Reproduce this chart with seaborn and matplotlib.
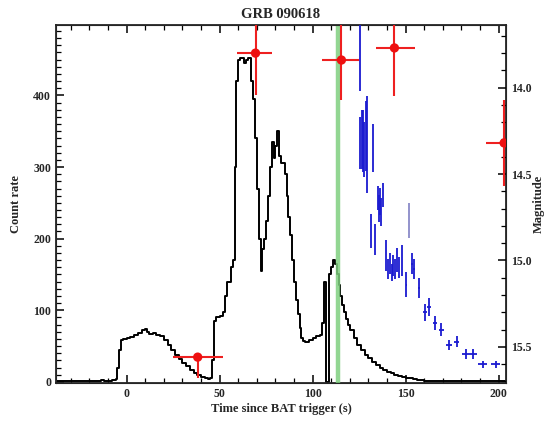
import numpy as np
import pandas as pd
import matplotlib
matplotlib.use("Agg")
import matplotlib.pyplot as plt
from matplotlib.ticker import MultipleLocator, FormatStrFormatter
import seaborn as sns

# BAT count-rate light curve (bin start time in s, counts per bin)
bat_time = [-38, -36, -34, -32, -30, -28, -26, -24, -22, -20, -18, -16, -14, -12, -10, -8, -6,
            -5, -4, -3, -2, 0, 2, 4, 6, 8, 10, 11, 12, 14, 16, 18, 20, 22, 24, 26, 28, 30, 32,
            34, 36, 38, 40, 42, 44, 45, 46, 47, 48, 50, 52, 53, 54, 55, 56, 57, 58, 59, 60,
            61, 62, 63, 64, 65, 66, 67, 68, 69, 70, 71, 72, 73, 74, 75, 76, 77, 78, 79, 80,
            81, 82, 83, 84, 85, 86, 87, 88, 89, 90, 91, 92, 93, 94, 95, 96, 98, 100, 102, 104,
            105, 106, 107, 109, 110, 111, 112, 113, 114, 115, 116, 117, 118, 119, 120, 122, 124,
            126, 128, 130, 132, 134, 136, 138, 140, 142, 144, 146, 148, 150, 152, 154, 156, 158,
            160, 164, 168, 172, 176, 180, 184, 188, 192, 196, 200, 204]
bat_rate = [2, 1, 2, 1, 2, 1, 2, 2, 1, 2, 1, 2, 3, 2, 2, 3, 4,
            20, 45, 58, 60, 62, 63, 66, 68, 72, 74, 70, 67, 68, 66, 64, 58, 52, 45, 38, 32, 27, 22,
            17, 13, 10, 7, 5, 4, 6, 30, 85, 90, 92, 97, 120, 140, 140, 160, 170, 300, 420, 450,
            452, 452, 445, 450, 452, 452, 420, 395, 340, 270, 200, 155, 185, 200, 225, 260, 300, 335, 312, 330,
            350, 315, 305, 305, 290, 260, 230, 205, 170, 140, 115, 95, 75, 62, 57, 56, 58, 62, 64, 66,
            82, 140, 0, 150, 160, 170, 165, 150, 135, 120, 108, 98, 88, 80, 72, 62, 52,
            45, 38, 33, 28, 24, 20, 17, 14, 12, 10, 8, 7, 6, 5, 4, 3, 3,
            2, 2, 1, 2, 1, 2, 1, 2, 1, 2, 2, 2]

# Optical photometry (magnitudes)
red_t = [38.2, 69.3, 115.5, 144.0, 203.0]
red_mag = [15.56, 13.80, 13.84, 13.77, 14.32]
red_t_lo = [13.3, 10.1, 10.5, 10.0, 10.0]
red_t_hi = [13.4, 8.6, 9.5, 11.0, 10.0]
red_mag_lo = [0.02, 0.24, 0.23, 0.28, 0.25]
red_mag_hi = [0.12, 0.24, 0.23, 0.28, 0.25]

blue_t = [125.7, 125.5, 126.3, 127.0, 127.8, 128.5, 129.2, 132.4, 131.5, 133.6,
          135.2, 135.8, 136.4, 137.0, 137.8, 139.5, 140.5, 141.5, 142.5, 143.5,
          144.5, 145.5, 146.5, 148.0, 150.5, 153.5, 154.5, 157.3, 160.3, 162.5,
          165.8, 169.3, 173.5, 177.5, 182.5, 186.5, 191.5, 198.5]
blue_mag = [13.55, 14.32, 14.30, 14.31, 14.36, 14.28, 14.33, 14.35, 14.83, 14.88,
            14.64, 14.70, 14.66, 14.72, 14.62, 14.97, 15.05, 15.02, 15.07, 15.03,
            15.05, 15.00, 15.04, 15.00, 15.14, 15.02, 15.05, 15.16, 15.30, 15.27,
            15.36, 15.40, 15.49, 15.47, 15.54, 15.54, 15.60, 15.60]
blue_t_err = [0, 0, 0, 0, 0, 0, 0, 0, 0, 0,
              0, 0, 0, 0, 0, 0, 0, 0, 0, 0,
              0, 0, 0, 0, 0.5, 0.5, 0.5, 0.6, 1.0, 1.0,
              1.2, 1.2, 1.5, 1.5, 2.0, 2.0, 2.5, 2.5]
blue_mag_err = [0.47, 0.15, 0.17, 0.18, 0.16, 0.20, 0.28, 0.14, 0.10, 0.09,
                0.07, 0.08, 0.08, 0.08, 0.07, 0.09, 0.06, 0.06, 0.05, 0.06,
                0.06, 0.07, 0.06, 0.09, 0.07, 0.06, 0.06, 0.06, 0.05, 0.05,
                0.04, 0.04, 0.03, 0.03, 0.03, 0.03, 0.02, 0.02]

faint_t = [152.0]
faint_mag = [14.77]
faint_mag_err = [0.10]

flag_time = 113.7

sns.set_style("ticks")
serif = ["Liberation Serif", "DejaVu Serif"]
plt.rcParams["font.family"] = serif
plt.rcParams["font.weight"] = "bold"

fig = plt.figure(figsize=(5.47, 4.26), dpi=100)
ax = fig.add_axes([0.1024, 0.100, 0.8226, 0.841])

bat = pd.DataFrame({"t": bat_time, "rate": bat_rate})
sns.lineplot(data=bat, x="t", y="rate", ax=ax, color="black", lw=1.4,
             drawstyle="steps-post", sort=False, estimator=None)
ax.axvline(flag_time, color="#7fcf7f", lw=3.2, alpha=0.85, zorder=3)

ax.set_xlim(-38, 204)
ax.set_ylim(-2, 498)
ax.xaxis.set_major_locator(MultipleLocator(50))
ax.xaxis.set_minor_locator(MultipleLocator(10))
ax.yaxis.set_major_locator(MultipleLocator(100))
ax.yaxis.set_minor_locator(MultipleLocator(10))
ax.tick_params(which="both", direction="in", top=True, right=False, labelsize=8.5,
               color="black")
ax.tick_params(which="major", length=6, width=1.1)
ax.tick_params(which="minor", length=3.5, width=0.9)
for sp in ax.spines.values():
    sp.set_linewidth(1.3)
ax.set_xlabel("Time since BAT trigger (s)", fontsize=9, fontweight="bold", labelpad=2)
ax.set_ylabel("Count rate", fontsize=9, fontweight="bold", labelpad=8)
ax.set_title("GRB 090618", fontsize=10.5, fontweight="bold", pad=5)

ax2 = ax.twinx()
ax2.set_ylim(15.712, 13.638)
ax2.yaxis.set_major_locator(MultipleLocator(0.5))
ax2.yaxis.set_minor_locator(MultipleLocator(0.1))
ax2.yaxis.set_major_formatter(FormatStrFormatter("%.1f"))
ax2.tick_params(which="both", direction="in", left=False, right=True, labelsize=8.5,
                color="black")
ax2.tick_params(which="major", length=6, width=1.1)
ax2.tick_params(which="minor", length=3.5, width=0.9)
ax2.set_ylabel("Magnitude", fontsize=9, fontweight="bold", labelpad=1)

ax2.errorbar(blue_t, blue_mag, xerr=blue_t_err, yerr=blue_mag_err, fmt="none",
             ecolor="#1a1ad0", elinewidth=1.3, capsize=0, zorder=4)
ax2.errorbar(faint_t, faint_mag, yerr=faint_mag_err, fmt="none",
             ecolor="#8a8ac8", elinewidth=1.3, capsize=0, zorder=4)
ax2.errorbar(red_t, red_mag, xerr=[red_t_lo, red_t_hi], yerr=[red_mag_lo, red_mag_hi],
             fmt="none", ecolor="#ee2020", elinewidth=1.5, capsize=0, zorder=5, clip_on=True)
sns.scatterplot(x=red_t, y=red_mag, ax=ax2, color="#ee1010", s=45, edgecolor="none",
                zorder=6, clip_on=True)
ax2.set_xlim(-38, 204)

fig.savefig("out.png", dpi=100)
